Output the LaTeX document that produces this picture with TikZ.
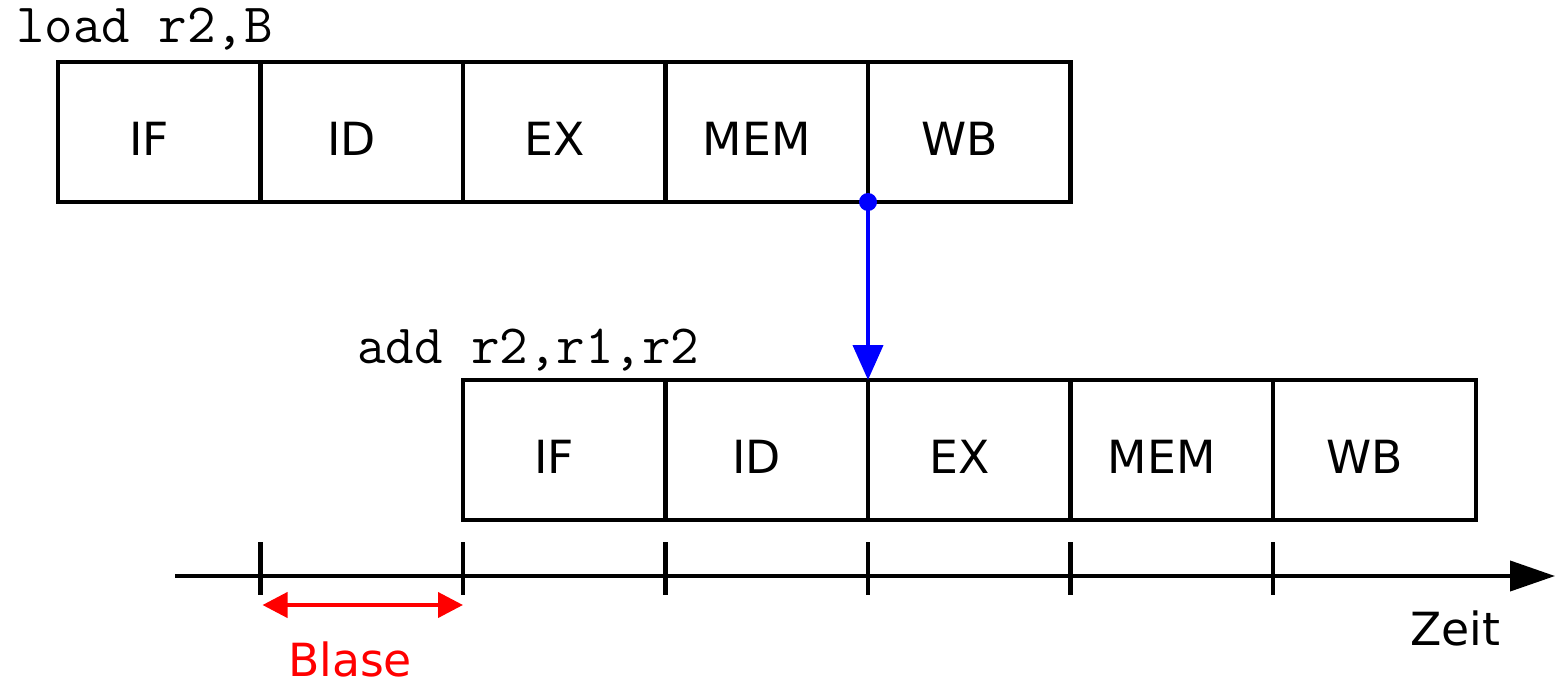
\documentclass[tikz,border=0pt]{standalone}
\usepackage{fontspec}
\setmainfont{DejaVu Sans}
\usetikzlibrary{arrows.meta,positioning}

\begin{document}
\begin{tikzpicture}[line width=2.3pt,
  stage/.style={draw, minimum width=4.05cm, minimum height=2.8cm, inner sep=0pt, outer sep=0pt},
  every label/.style={font=\fontsize{26}{30}\selectfont, xshift=-0.2cm, yshift=-0.14cm},
  cmd/.style={font=\ttfamily\fontsize{31.5}{35}\selectfont, inner sep=0pt, anchor=base west},
  txt/.style={font=\fontsize{26}{30}\selectfont, inner sep=0pt}]
\useasboundingbox (0,0) rectangle (31.1,13.7);

% load r2,B
\node[stage, label=center:IF] (if1) at (3.185,11.06) {};
\node[stage, right=0pt of if1, label=center:ID] (id1) {};
\node[stage, right=0pt of id1, label=center:EX] (ex1) {};
\node[stage, right=0pt of ex1, label=center:MEM] (mem1) {};
\node[stage, right=0pt of mem1, label=center:WB] (wb1) {};
\node[cmd] (load) at ([xshift=-0.88cm,yshift=0.38cm]if1.north west) {load r2,B};

% add r2,r1,r2
\node[stage, below=3.56cm of ex1, label=center:IF] (if2) {};
\node[stage, right=0pt of if2, label=center:ID] (id2) {};
\node[stage, right=0pt of id2, label=center:EX] (ex2) {};
\node[stage, right=0pt of ex2, label=center:MEM] (mem2) {};
\node[stage, right=0pt of mem2, label=center:WB] (wb2) {};
\node[cmd] (add) at ([xshift=-2.16cm,yshift=0.34cm]if2.north west) {add r2,r1,r2};

% forwarding
\fill[blue] (mem1.south east) circle (0.18);
\draw[blue, line width=2.3pt, -{Triangle[length=0.7cm,width=0.6cm]}] (mem1.south east) -- (ex2.north west);

% time axis
\coordinate (t0) at (3.5,2.18);
\coordinate (tend) at (31.1,2.18);
\draw[-{Triangle[length=0.9cm,width=0.6cm]}] (t0) -- (tend);
\foreach \n [count=\i] in {if1.south east, if2.south west, if2.south east, id2.south east, ex2.south east, mem2.south east}
  \coordinate (t\i) at (\n |- t0);
\foreach \i in {1,...,6}
  \draw ([yshift=0.68cm]t\i) -- ([yshift=-0.38cm]t\i);
\node[txt] (zeit) at (29.1,1.14) {Zeit};

% bubble
\draw[red, {Triangle[length=0.5cm,width=0.5cm]}-{Triangle[length=0.5cm,width=0.5cm]}] ([xshift=0.04cm,yshift=-0.58cm]t1) -- ([yshift=-0.58cm]t2);
\node[txt, red] (blase) at (7.0,0.52) {Blase};
\end{tikzpicture}
\end{document}
